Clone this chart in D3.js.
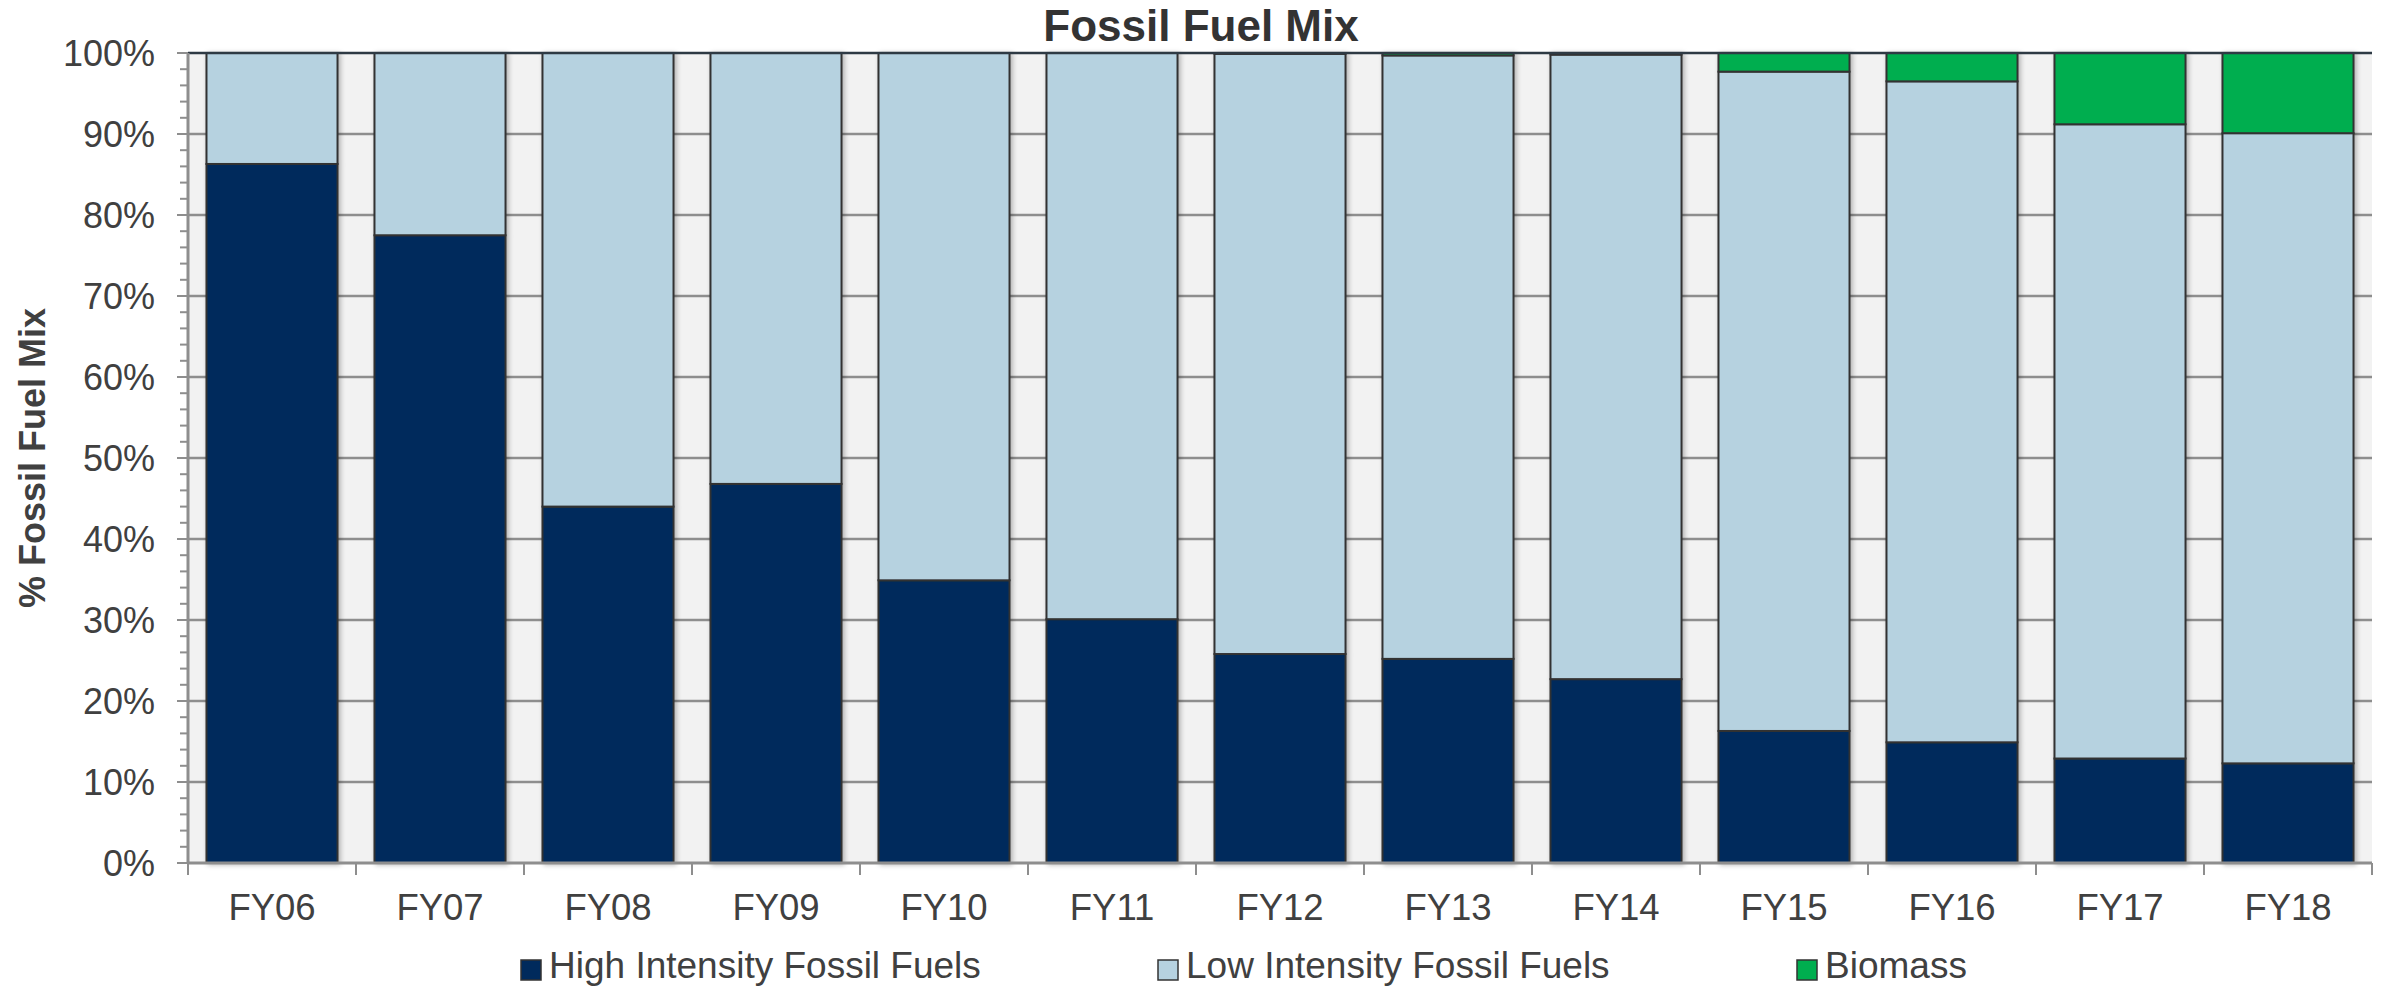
<!DOCTYPE html>
<html>
<head>
<meta charset="utf-8">
<script src="https://cdn.jsdelivr.net/npm/d3@7"></script>
<style>
  html, body { margin: 0; padding: 0; background: #ffffff; }
  svg { display: block; font-family: "Liberation Sans", Arial, sans-serif; }
</style>
</head>
<body>
<svg id="chart" width="2384" height="988"></svg>
<script>
// Fiscal years
const years = ["FY06","FY07","FY08","FY09","FY10","FY11","FY12","FY13","FY14","FY15","FY16","FY17","FY18"];
// Share of the mix, percent
const highIntensity = [86.3, 77.5, 44.0, 46.8, 34.9, 30.1, 25.8, 25.2, 22.7, 16.3, 14.9, 12.9, 12.3];
const biomass       = [0, 0, 0, 0, 0, 0, 0.1, 0.3, 0.2, 2.3, 3.5, 8.8, 9.9];
const lowIntensity  = highIntensity.map((h, i) => +(100 - h - biomass[i]).toFixed(1));

const seriesNames = ["High Intensity Fossil Fuels", "Low Intensity Fossil Fuels", "Biomass"];
const seriesColors = ["#002a5c", "#b6d2e0", "#00ae4f"];
const yTickValues = d3.range(0, 101, 10);

const rows = years.map((y, i) => ({
  year: y,
  "High Intensity Fossil Fuels": highIntensity[i],
  "Low Intensity Fossil Fuels": lowIntensity[i],
  "Biomass": biomass[i]
}));

const svg = d3.select("#chart");
const plot = { left: 188, right: 2372, top: 53, bottom: 863 };

const x = d3.scaleBand().domain(years).range([plot.left, plot.right])
  .paddingInner(0.22).paddingOuter(0.11);
const y = d3.scaleLinear().domain([0, 100]).range([plot.bottom, plot.top]);
const color = d3.scaleOrdinal().domain(seriesNames).range(seriesColors);

// soft shadow under the bars
const defs = svg.append("defs");
const f = defs.append("filter").attr("id", "shadow")
  .attr("x", "-10%").attr("y", "-10%").attr("width", "130%").attr("height", "130%");
f.append("feDropShadow").attr("dx", 2).attr("dy", 1).attr("stdDeviation", 2.5)
  .attr("flood-color", "#000").attr("flood-opacity", 0.28);

// plot background
svg.append("rect")
  .attr("x", plot.left).attr("y", plot.top)
  .attr("width", plot.right - plot.left).attr("height", plot.bottom - plot.top)
  .attr("fill", "#f2f2f2");

// horizontal gridlines
svg.append("g").selectAll("line")
  .data(yTickValues.filter(v => v > 0 && v < 100))
  .join("line")
  .attr("x1", plot.left).attr("x2", plot.right)
  .attr("y1", d => y(d)).attr("y2", d => y(d))
  .attr("stroke", "#8e8e8e").attr("stroke-width", 2.5);

// stacked bars
const stack = d3.stack().keys(seriesNames);
const layers = stack(rows);

const barG = svg.append("g").attr("filter", "url(#shadow)");
layers.forEach(layer => {
  barG.append("g").selectAll("rect")
    .data(layer.filter(d => d[1] - d[0] > 0))
    .join("rect")
    .attr("x", d => x(d.data.year))
    .attr("width", x.bandwidth())
    .attr("y", d => y(d[1]))
    .attr("height", d => y(d[0]) - y(d[1]))
    .attr("fill", color(layer.key))
    .attr("stroke", "#333333")
    .attr("stroke-width", 2);
});

// top border of the plot
svg.append("line")
  .attr("x1", plot.left).attr("x2", plot.right)
  .attr("y1", plot.top).attr("y2", plot.top)
  .attr("stroke", "#2e3a44").attr("stroke-width", 2.5);

// y axis with major and minor ticks
const yAxisG = svg.append("g");
yAxisG.append("line")
  .attr("x1", plot.left).attr("x2", plot.left)
  .attr("y1", plot.top).attr("y2", plot.bottom)
  .attr("stroke", "#8e8e8e").attr("stroke-width", 3);
yAxisG.selectAll(".minor")
  .data(d3.range(0, 101, 2).filter(v => v % 10 !== 0))
  .join("line").attr("class", "minor")
  .attr("x1", plot.left - 8).attr("x2", plot.left)
  .attr("y1", d => y(d)).attr("y2", d => y(d))
  .attr("stroke", "#8e8e8e").attr("stroke-width", 2);
yAxisG.selectAll(".major")
  .data(yTickValues)
  .join("line").attr("class", "major")
  .attr("x1", plot.left - 11).attr("x2", plot.left)
  .attr("y1", d => y(d)).attr("y2", d => y(d))
  .attr("stroke", "#8e8e8e").attr("stroke-width", 2);
yAxisG.selectAll("text")
  .data(yTickValues)
  .join("text")
  .attr("x", 155).attr("y", d => y(d)).attr("dy", "0.36em")
  .attr("text-anchor", "end")
  .attr("font-size", 36).attr("fill", "#404040")
  .text(d => d + "%");

// x axis
const xAxisG = svg.append("g");
xAxisG.append("line")
  .attr("x1", plot.left).attr("x2", plot.right)
  .attr("y1", plot.bottom).attr("y2", plot.bottom)
  .attr("stroke", "#8e8e8e").attr("stroke-width", 3);
const boundaries = years.map(d => x(d) - x.step() * x.paddingInner() / 2).concat([plot.right]);
xAxisG.selectAll(".tick")
  .data(boundaries)
  .join("line").attr("class", "tick")
  .attr("x1", d => d).attr("x2", d => d)
  .attr("y1", plot.bottom).attr("y2", plot.bottom + 12)
  .attr("stroke", "#8e8e8e").attr("stroke-width", 2);
xAxisG.selectAll("text")
  .data(years)
  .join("text")
  .attr("x", d => x(d) + x.bandwidth() / 2).attr("y", 920)
  .attr("text-anchor", "middle")
  .attr("font-size", 36.5).attr("fill", "#404040")
  .text(d => d);

// title
svg.append("text")
  .attr("x", 1201).attr("y", 41)
  .attr("text-anchor", "middle")
  .attr("font-size", 44).attr("font-weight", "bold").attr("fill", "#333333")
  .text("Fossil Fuel Mix");

// y axis title
svg.append("text")
  .attr("transform", "translate(45,458) rotate(-90)")
  .attr("text-anchor", "middle")
  .attr("font-size", 36).attr("font-weight", "bold").attr("fill", "#404040")
  .text("% Fossil Fuel Mix");

// legend
const legendX = [521, 1158, 1797];
const legend = svg.append("g").selectAll("g")
  .data(seriesNames)
  .join("g")
  .attr("transform", (d, i) => `translate(${legendX[i]},0)`);
legend.append("rect")
  .attr("x", 0).attr("y", 960).attr("width", 20).attr("height", 20)
  .attr("fill", d => color(d)).attr("stroke", "#333333").attr("stroke-width", 1.5);
legend.append("text")
  .attr("x", 28).attr("y", 978)
  .attr("font-size", 37).attr("fill", "#404040")
  .text(d => d);
</script>
</body>
</html>
